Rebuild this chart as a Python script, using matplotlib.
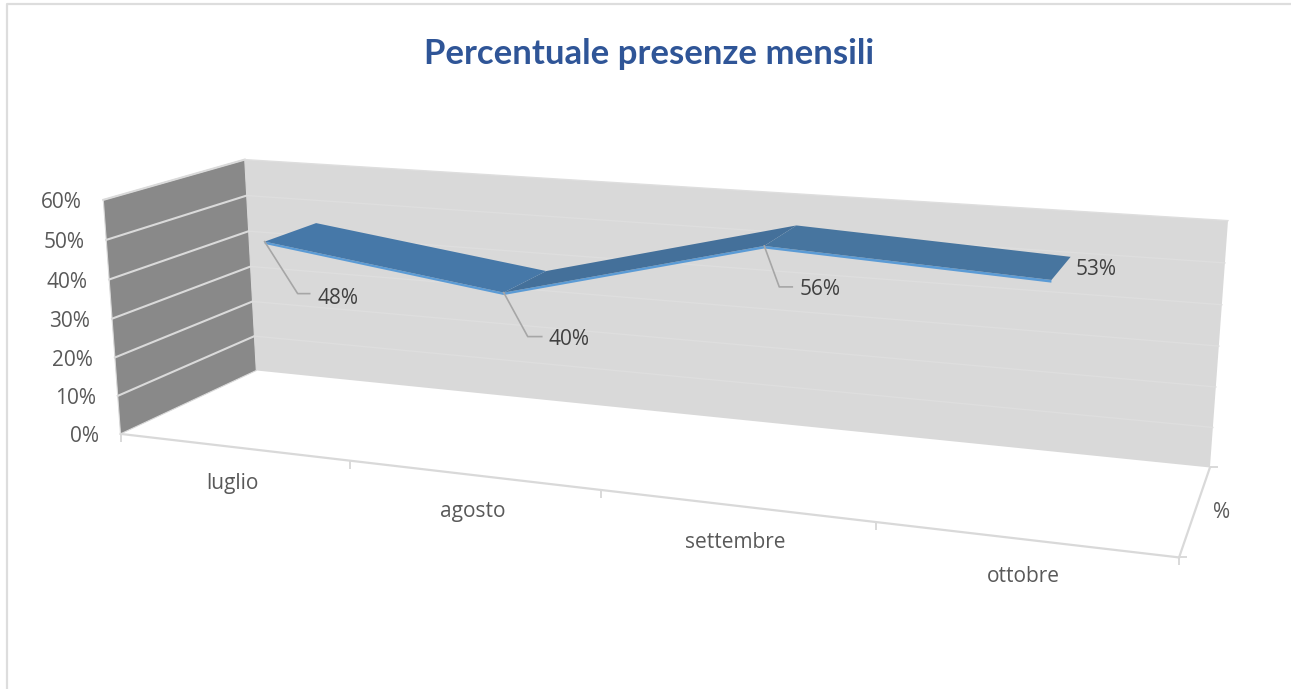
import matplotlib
matplotlib.use("Agg")
import matplotlib.pyplot as plt
from matplotlib.patches import Polygon
import numpy as np

# chart values
months = ["luglio", "agosto", "settembre", "ottobre"]
presenze = [0.48, 0.40, 0.56, 0.53]
yTicks = [0.0, 0.1, 0.2, 0.3, 0.4, 0.5, 0.6]
seriesName = "%"
title = "Percentuale presenze mensili"

plt.rcParams['font.family'] = ['Open Sans', 'DejaVu Sans']

yMax = yTicks[-1]
nCat = len(months)
labelSize = 15

# camera fitted on the box corners seen in the picture (x, value, depth) -> pixel
anchors = [
    ((0, 0, 0), (120, 432)),
    ((0, yMax, 0), (103, 200)),
    ((0, 0, 1), (256, 371)),
    ((0, yMax, 1), (245, 160)),
    ((nCat, 0, 1), (1210, 467)),
    ((nCat, yMax, 1), (1228, 220)),
    ((nCat, 0, 0), (1179, 558)),
    ((1, 0, 0), (351, 461)),
    ((2, 0, 0), (601, 491)),
    ((3, 0, 0), (875, 522)),
]
rows = []
rhs = []
for (x, y, z), (px, py) in anchors:
    y = y / yMax
    rows.append([x, y, z, 1, 0, 0, 0, 0, -px * x, -px * y, -px * z])
    rhs.append(px)
    rows.append([0, 0, 0, 0, x, y, z, 1, -py * x, -py * y, -py * z])
    rhs.append(py)
cam = np.linalg.lstsq(np.array(rows, float), np.array(rhs, float), rcond=None)[0]
cam = np.append(cam, 1.0).reshape(3, 4)


def proj(x, y, z):
    p = cam @ np.array([x, y / yMax, z, 1.0])
    return p[0] / p[2], p[1] / p[2]


fig = plt.figure(figsize=(12.91, 6.89), dpi=100)
ax = fig.add_axes([0, 0, 1, 1])
ax.set_xlim(0, 1291)
ax.set_ylim(689, 0)
ax.axis("off")

# outer border
ax.plot([7, 7, 1291], [689, 4, 4], color="#DDDDDD", lw=1.6)

# walls
ax.add_patch(Polygon([proj(0, 0, 1), proj(0, yMax, 1), proj(nCat, yMax, 1), proj(nCat, 0, 1)],
                     fc="#D9D9D9", ec="none"))
ax.add_patch(Polygon([proj(0, 0, 0), proj(0, yMax, 0), proj(0, yMax, 1), proj(0, 0, 1)],
                     fc="#898989", ec="#D9D9D9", lw=0.8))

# gridlines
for v in yTicks[1:]:
    a = proj(0, v, 0)
    b = proj(0, v, 1)
    c = proj(nCat, v, 1)
    ax.plot([a[0], b[0]], [a[1], b[1]], color="#DADADA", lw=1.5)
    ax.plot([b[0], c[0]], [b[1], c[1]], color="#DEDEDE", lw=1.0)
for v in yTicks:
    a = proj(0, v, 0)
    ax.text(a[0] - 22, a[1] + 3, "%d%%" % round(v * 100), ha="right", va="center",
            fontsize=labelSize, color="#595959")

# floor edges and ticks
fl = proj(0, 0, 0)
fr = proj(nCat, 0, 0)
br = proj(nCat, 0, 1)
ax.plot([fl[0], fr[0]], [fl[1], fr[1]], color="#D9D9D9", lw=1.6)
ax.plot([fr[0], br[0]], [fr[1], br[1]], color="#D9D9D9", lw=1.6)
for i in range(nCat + 1):
    p = proj(i, 0, 0)
    ax.plot([p[0], p[0]], [p[1], p[1] + 7], color="#D9D9D9", lw=1.4)
ax.plot([fr[0], fr[0] + 7], [fr[1], fr[1]], color="#D9D9D9", lw=1.4)
ax.plot([br[0], br[0] + 7], [br[1], br[1]], color="#D9D9D9", lw=1.4)

# category labels
for i, name in enumerate(months):
    p = proj(i + 0.5, 0, 0)
    ax.text(p[0], p[1] + 37, name, ha="center", va="center", fontsize=labelSize, color="#595959")
p = proj(nCat, 0, 0.5)
ax.text(p[0] + 26, p[1] + 3, seriesName, ha="center", va="center", fontsize=labelSize, color="#595959")

# ribbon
zFront = 0.305
zBack = 0.7
thick = 0.006
faceCols = ["#4678A8", "#44709A", "#47759F"]
for i in range(nCat - 1):
    x0, x1 = i + 0.5, i + 1.5
    v0, v1 = presenze[i], presenze[i + 1]
    ax.add_patch(Polygon([proj(x0, v0, zFront), proj(x1, v1, zFront),
                          proj(x1, v1 - thick, zFront), proj(x0, v0 - thick, zFront)],
                         fc="#5B9BD5", ec="none", zorder=3))
for i in [1, 0, 2]:
    x0, x1 = i + 0.5, i + 1.5
    v0, v1 = presenze[i], presenze[i + 1]
    ax.add_patch(Polygon([proj(x0, v0, zFront), proj(x1, v1, zFront),
                          proj(x1, v1, zBack), proj(x0, v0, zBack)],
                         fc=faceCols[i], ec="none", zorder=3))

# data labels with leader lines
leaders = [(33, 52, 45), (24, 44, 38), (15, 41, 28), None]
textOffs = [(53, 57), (45, 47), (35, 44), (24, -10)]
for i, v in enumerate(presenze):
    p = proj(i + 0.5, v, zFront)
    if leaders[i] is not None:
        dx, dy, ex = leaders[i]
        ax.plot([p[0], p[0] + dx, p[0] + ex], [p[1], p[1] + dy, p[1] + dy],
                color="#A6A6A6", lw=1.2, zorder=4)
    ax.text(p[0] + textOffs[i][0], p[1] + textOffs[i][1], "%d%%" % round(v * 100),
            ha="left", va="center", fontsize=labelSize, color="#404040", zorder=5)

ax.text(649.5, 54, title, ha="center", va="center", fontsize=25, fontweight="bold",
        color="#2F5597", family=['Lato', 'DejaVu Sans'])

fig.savefig("out.png", dpi=100)
